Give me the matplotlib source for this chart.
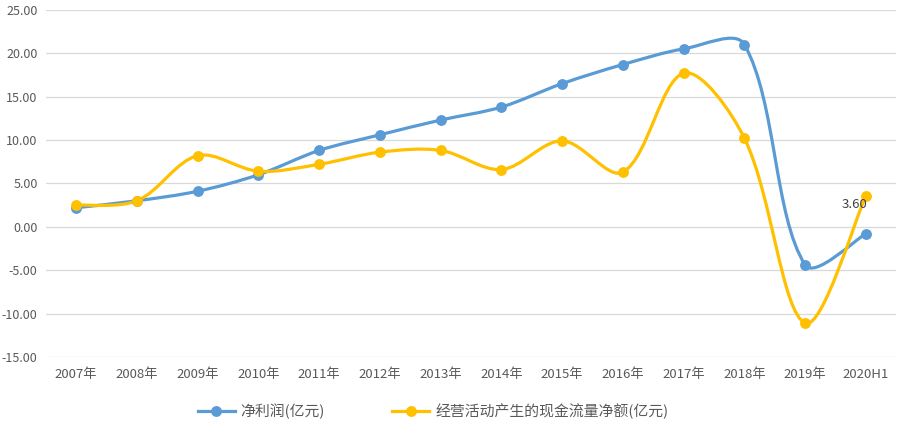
import numpy as np
import matplotlib
matplotlib.use("Agg")
import matplotlib.pyplot as plt
from matplotlib.path import Path
from matplotlib.patches import PathPatch
from matplotlib.lines import Line2D

plt.rcParams['font.family'] = ['Noto Sans CJK SC', 'DejaVu Sans']

categories = ["2007年", "2008年", "2009年", "2010年", "2011年", "2012年", "2013年",
              "2014年", "2015年", "2016年", "2017年", "2018年", "2019年", "2020H1"]
net_profit = [2.2, 3.0, 4.1, 6.0, 8.8, 10.6, 12.3, 13.8, 16.5, 18.7, 20.5, 21.0, -4.4, -0.8]
op_cash = [2.5, 3.0, 8.2, 6.4, 7.2, 8.6, 8.8, 6.6, 9.9, 6.3, 17.7, 10.2, -11.1, 3.6]
yticks = [-15, -10, -5, 0, 5, 10, 15, 20, 25]

blue = "#5B9BD5"
yellow = "#FFC000"

fig = plt.figure(figsize=(8.99, 4.28), dpi=100)
ax = fig.add_axes([0.051, 0.166, 0.946, 0.811])
ax.set_xlim(-0.5, len(categories) - 0.5)
ax.set_ylim(-15, 25)


def smooth_path(xs, ys, g=1.0 / 3.0):
    """Smoothed line: chord-weighted Catmull-Rom Bezier segments in display space."""
    data = np.column_stack([xs, ys]).astype(float)
    pts = ax.transData.transform(data)
    n = len(pts)
    outc, inc = [], []
    for i in range(n):
        if i == 0:
            T = pts[1] - pts[0]
            outc.append(T / 6.0)
            inc.append(T * 0)
            continue
        if i == n - 1:
            T = pts[-1] - pts[-2]
            inc.append(T / 6.0)
            outc.append(T * 0)
            continue
        T = pts[i + 1] - pts[i - 1]
        din = np.linalg.norm(pts[i] - pts[i - 1])
        dout = np.linalg.norm(pts[i + 1] - pts[i])
        s = din + dout
        outc.append(T * g * dout / s)
        inc.append(T * g * din / s)
    verts = [pts[0]]
    codes = [Path.MOVETO]
    for i in range(n - 1):
        verts += [pts[i] + outc[i], pts[i + 1] - inc[i + 1], pts[i + 1]]
        codes += [Path.CURVE4] * 3
    verts = ax.transData.inverted().transform(np.array(verts))
    return Path(verts, codes)


x = np.arange(len(categories))
for ys, col in [(net_profit, blue), (op_cash, yellow)]:
    patch = PathPatch(smooth_path(x, ys), facecolor='none', edgecolor=col,
                      lw=2.3, capstyle='round', joinstyle='round', zorder=3)
    ax.add_patch(patch)
    ax.plot(x, ys, linestyle='none', marker='o', ms=6.8, color=col, zorder=4)

ax.annotate(f"{op_cash[-1]:.2f}", xy=(x[-1], op_cash[-1]), xytext=(-8, -6.5),
            textcoords='offset points', ha='center', va='center',
            fontsize=9.5, color='#404040', zorder=5)

ax.set_yticks(yticks)
ax.set_yticklabels([f"{v:.2f}" for v in yticks])
ax.set_xticks(x)
ax.set_xticklabels(categories)
ax.tick_params(axis='both', length=0, labelsize=9.5, labelcolor='#595959')
ax.tick_params(axis='y', pad=6, labelsize=9)
ax.tick_params(axis='x', pad=8)
ax.grid(axis='y', color='#D9D9D9', lw=0.9)
ax.set_axisbelow(True)
for s in ax.spines.values():
    s.set_visible(False)

handles = [Line2D([], [], color=blue, lw=2.3, marker='o', ms=6.8),
           Line2D([], [], color=yellow, lw=2.3, marker='o', ms=6.8)]
fig.legend(handles, ["净利润(亿元)", "经营活动产生的现金流量净额(亿元)"],
           loc='center', bbox_to_anchor=(0.4815, 0.04), ncol=2, frameon=False,
           fontsize=10.7, labelcolor='#595959', handlelength=2.5,
           columnspacing=4.5, handletextpad=0.4)

fig.savefig("out.png", dpi=100)
